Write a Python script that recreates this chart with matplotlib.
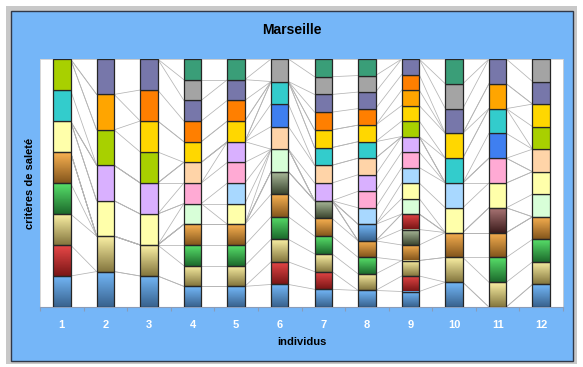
import numpy as np
import matplotlib
matplotlib.use("Agg")
import matplotlib.pyplot as plt
from matplotlib.patches import Rectangle

plt.rcParams['font.family'] = ['Liberation Sans', 'DejaVu Sans']

# series (criteres), bottom -> top of each stack
criteres = ["bleu", "rouge", "kaki", "vert", "orange_brun", "sauge", "rouge2", "mauve",
            "bleu_degrade", "vert_pale", "jaune_pale", "bleu_pale", "rose", "lavande",
            "peche", "bleu_vif", "cyan", "vert_anis", "or", "orange", "orange_fonce",
            "ardoise", "gris", "vert_canard"]

# flat colour or (top, bottom) gradient for each critere
couleurs = {
    "bleu": ("#74b8f8", "#38628e"),
    "rouge": ("#e84848", "#7a1616"),
    "kaki": ("#faf0a4", "#84763e"),
    "vert": ("#58e06a", "#1c6a2c"),
    "orange_brun": ("#fab252", "#84561c"),
    "sauge": ("#aebe9e", "#3c4630"),
    "rouge2": ("#e84848", "#7a1616"),
    "mauve": ("#a87474", "#3c1c1c"),
    "bleu_degrade": ("#74b8f8", "#38628e"),
    "vert_pale": "#d8ffd8",
    "jaune_pale": "#ffffaa",
    "bleu_pale": "#a8d8ff",
    "rose": "#ffaad4",
    "lavande": "#d9b0ff",
    "peche": "#ffd4a8",
    "bleu_vif": "#3f7ff0",
    "cyan": "#33cccc",
    "vert_anis": "#a8d000",
    "or": "#ffd700",
    "orange": "#ffa500",
    "orange_fonce": "#ff7f00",
    "ardoise": "#7777aa",
    "gris": "#a4a4a4",
    "vert_canard": "#3a9e78",
}

individus = ["1", "2", "3", "4", "5", "6", "7", "8", "9", "10", "11", "12"]

# criteres cited by each individu (bottom -> top)
choix = [
    ["bleu", "rouge", "kaki", "vert", "orange_brun", "jaune_pale", "cyan", "vert_anis"],
    ["bleu", "kaki", "jaune_pale", "lavande", "vert_anis", "orange", "ardoise"],
    ["bleu", "kaki", "jaune_pale", "lavande", "vert_anis", "or", "orange_fonce", "ardoise"],
    ["bleu", "kaki", "vert", "orange_brun", "vert_pale", "rose", "peche", "or",
     "orange_fonce", "ardoise", "gris", "vert_canard"],
    ["bleu", "kaki", "vert", "orange_brun", "jaune_pale", "bleu_pale", "rose", "lavande",
     "or", "orange_fonce", "ardoise", "vert_canard"],
    ["bleu", "rouge", "kaki", "vert", "orange_brun", "sauge", "vert_pale", "peche",
     "bleu_vif", "cyan", "gris"],
    ["bleu", "rouge", "kaki", "vert", "orange_brun", "sauge", "lavande", "peche", "cyan",
     "or", "orange_fonce", "ardoise", "gris", "vert_canard"],
    ["bleu", "kaki", "vert", "orange_brun", "bleu_degrade", "bleu_pale", "rose", "lavande",
     "peche", "cyan", "or", "orange_fonce", "ardoise", "gris", "vert_canard"],
    ["bleu", "rouge", "kaki", "orange_brun", "sauge", "rouge2", "vert_pale", "jaune_pale",
     "bleu_pale", "rose", "lavande", "vert_anis", "or", "orange", "orange_fonce", "ardoise"],
    ["bleu", "kaki", "orange_brun", "jaune_pale", "bleu_pale", "cyan", "or", "ardoise",
     "gris", "vert_canard"],
    ["kaki", "vert", "orange_brun", "mauve", "jaune_pale", "rose", "bleu_vif", "cyan",
     "orange", "ardoise"],
    ["bleu", "kaki", "vert", "orange_brun", "vert_pale", "jaune_pale", "peche", "vert_anis",
     "or", "ardoise", "gris"],
]

# 0/1 table, converted to 100 % stacks
valeurs = np.array([[1.0 if c in ch else 0.0 for c in criteres] for ch in choix])
parts = valeurs / valeurs.sum(axis=1, keepdims=True)
cumul = np.cumsum(parts, axis=1)

BLEU_FOND = "#75b6f8"

fig = plt.figure(figsize=(5.83, 3.67), dpi=100, facecolor="white")
# frame: grey shadow + blue chart area
fig.patches.append(Rectangle((6 / 583, 1 - 364 / 367), 571 / 583, 358 / 367,
                             transform=fig.transFigure, facecolor="#c8c8c8",
                             edgecolor="none", zorder=-2))
fig.patches.append(Rectangle((11 / 583, 1 - 361 / 367), 562 / 583, 350 / 367,
                             transform=fig.transFigure, facecolor=BLEU_FOND,
                             edgecolor="#303848", linewidth=1.0, zorder=-1))

ax = fig.add_axes([40 / 583, 1 - 307 / 367, 523 / 583, 248 / 367])
ax.set_zorder(5)
ax.set_facecolor("white")
x = np.arange(len(individus))
largeur = 0.4

# series lines between adjacent stacks
for i in range(len(individus) - 1):
    for k in range(len(criteres)):
        ax.plot([x[i] + largeur / 2, x[i + 1] - largeur / 2],
                [cumul[i, k], cumul[i + 1, k]],
                color="#b4b4b4", linewidth=0.55, zorder=1)

bas = np.zeros(len(individus))
for k, c in enumerate(criteres):
    col = couleurs[c]
    h = parts[:, k]
    mask = h > 0
    if isinstance(col, str):
        ax.bar(x[mask], h[mask], largeur, bottom=bas[mask], color=col,
               edgecolor="#262626", linewidth=0.9, zorder=3)
    else:
        bars = ax.bar(x[mask], h[mask], largeur, bottom=bas[mask], facecolor="none",
                      edgecolor="#262626", linewidth=0.9, zorder=4)
        cmap = matplotlib.colors.LinearSegmentedColormap.from_list("g", [col[1], col[0]])
        grad = np.linspace(0, 1, 64).reshape(-1, 1)
        for b in bars:
            ax.imshow(grad, cmap=cmap, origin="lower", aspect="auto", zorder=3,
                      extent=[b.get_x(), b.get_x() + b.get_width(),
                              b.get_y(), b.get_y() + b.get_height()])
    bas += h

ax.set_xlim(-0.5, len(individus) - 0.5)
ax.set_ylim(0, 1)
ax.set_yticks([])
ax.set_xticks(x)
ax.set_xticklabels(individus, color="white", fontweight="bold", fontsize=8)
ax.tick_params(axis="x", which="major", length=0, pad=9)
ax.set_xticks(np.arange(-0.5, len(individus)), minor=True)
ax.tick_params(axis="x", which="minor", length=3, color="#8a9cb8", width=0.8)
for s in ["top", "left", "right"]:
    ax.spines[s].set_color("#d0d0d0")
    ax.spines[s].set_linewidth(0.6)
ax.spines["bottom"].set_color("#8a9cb8")
ax.spines["bottom"].set_linewidth(0.8)

fig.text(292 / 583, 1 - 30 / 367, "Marseille", ha="center", va="center",
         fontsize=10, fontweight="bold")
fig.text(301.5 / 583, 1 - 342 / 367, "individus", ha="center", va="center",
         fontsize=8, fontweight="bold")
fig.text(30 / 583, 1 - 183 / 367, "critères de saleté", ha="center", va="center",
         rotation=90, fontsize=8, fontweight="bold")

fig.savefig("out.png", dpi=100, facecolor="white")
